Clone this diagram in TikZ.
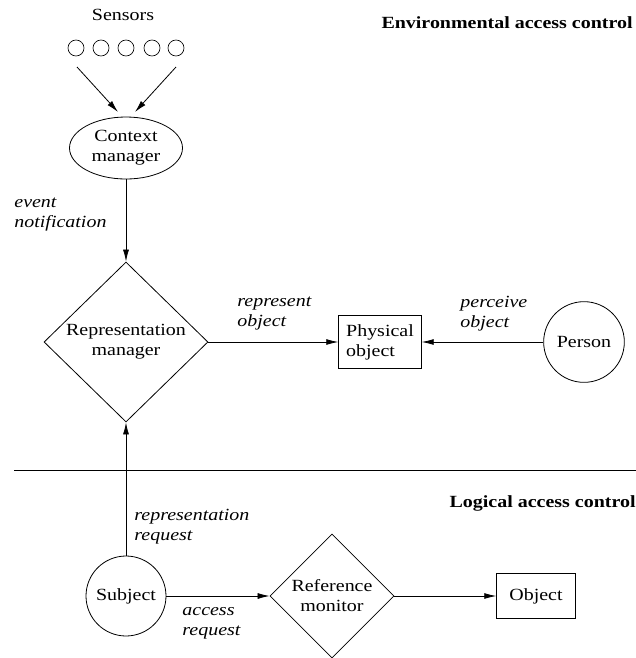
\documentclass[tikz,border=0pt]{standalone}
\usepackage{fontspec}
\setmainfont{Liberation Serif}[FakeStretch=1.17]
\usepackage{tikz}
\usetikzlibrary{shapes,arrows.meta,positioning}

\begin{document}
\fontsize{12.8}{15}\selectfont
\begin{tikzpicture}[x=0.75pt, y=-0.75pt, line width=0.6pt,
    >={Latex[length=9pt,width=4.5pt]},
    lbl/.style={font=\itshape, align=left, anchor=west, inner sep=0pt},
    hdr/.style={font=\bfseries, anchor=east, inner sep=0pt}]
    \useasboundingbox (0,0) rectangle (636,658);

    % environmental part
    \node[hdr] (envhdr) at (633,23) {Environmental access control};
    \node (sensors) at (123,15) {Sensors};
    \foreach \i/\x in {1/76,2/101,3/126,4/152,5/176}
        \node[draw, circle, minimum size=12pt, inner sep=0pt, line width=0.5pt] (s\i) at (\x,48) {};
    \node[draw, ellipse, minimum width=84.75pt, minimum height=46.5pt, inner sep=0pt, align=center] (ctx) at (126,148) {Context\\manager};
    \node[draw, diamond, minimum width=123pt, minimum height=120pt, inner sep=0pt, align=center] (repmgr) at (126,342) {Representation\\manager};
    \node[draw, rectangle, minimum width=62pt, minimum height=40pt, align=left] (phys) at (380,342) {Physical\\object};
    \node[draw, circle, minimum size=60.5pt, inner sep=0pt] (person) at (584,342) {Person};

    \coordinate (t1) at (77,67);
    \coordinate (h1) at (118,112);
    \coordinate (t2) at (176,67);
    \coordinate (h2) at (135,112);
    \draw[->] (t1) -- (h1);
    \draw[->] (t2) -- (h2);
    \draw[->] (ctx) -- (repmgr);
    \draw[->] (repmgr) -- (phys);
    \draw[->] (person) -- (phys);

    \node[lbl] (evt) at (14,215) {event\\notification};
    \node[lbl] (repobj) at (237,314) {represent\\object};
    \node[lbl] (perc) at (460,314) {perceive\\object};

    % separator
    \coordinate (sepl) at (14,470);
    \coordinate (sepr) at (636,470);
    \draw (sepl) -- (sepr);

    % logical part
    \node[hdr] (loghdr) at (636,503) {Logical access control};
    \node[draw, circle, minimum size=60pt, inner sep=0pt] (subj) at (126,596) {Subject};
    \node[draw, diamond, minimum width=93pt, minimum height=93pt, inner sep=0pt, align=center] (refmon) at (332,596) {Reference\\monitor};
    \node[draw, rectangle, minimum width=59pt, minimum height=34pt] (obj) at (536,596) {Object};

    \draw[->] (subj) -- (repmgr);
    \draw[->] (subj) -- (refmon);
    \draw[->] (refmon) -- (obj);

    \node[lbl] (repreq) at (134,527) {representation\\request};
    \node[lbl] (accreq) at (182,623) {access\\request};
\end{tikzpicture}
\end{document}
